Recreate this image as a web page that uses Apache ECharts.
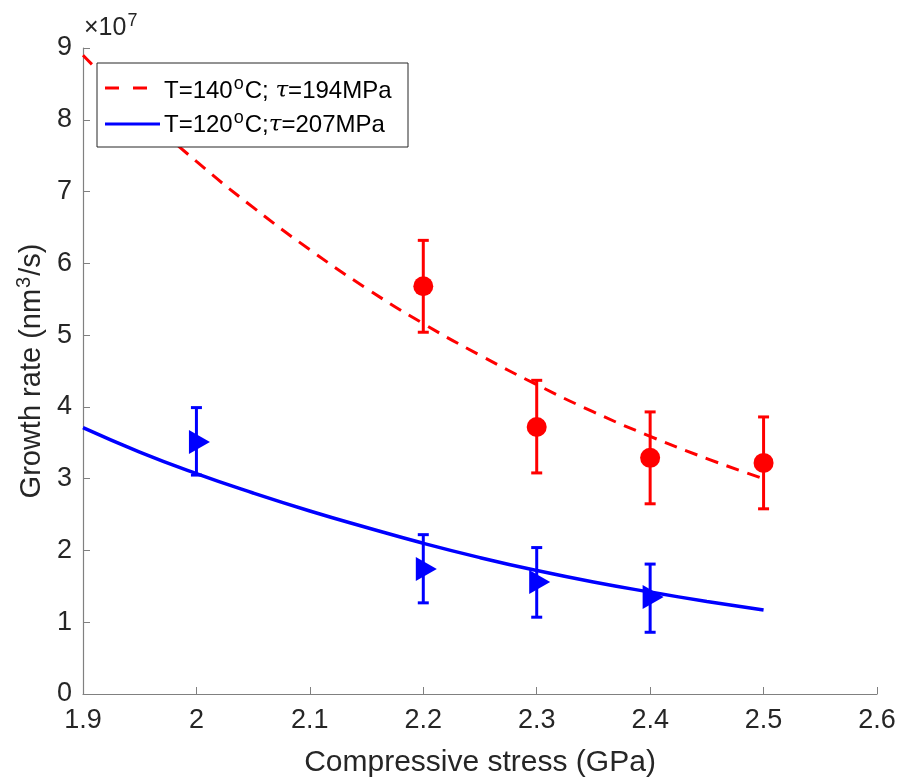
<!DOCTYPE html>
<html><head><meta charset="utf-8">
<script src="https://cdn.jsdelivr.net/npm/echarts@6/dist/echarts.min.js"></script>
<style>html,body{margin:0;padding:0;background:#fff}#c{width:897px;height:778px}</style>
</head><body><div id="c"></div>
<script>
// ---- data (values in units of 1e7 nm^3/s) ----
const fitX = [1.9,1.95,2.0,2.05,2.1,2.15,2.2,2.25,2.3,2.35,2.4,2.45,2.5];
const fit140 = [8.90,8.12,7.42,6.78,6.19,5.65,5.16,4.72,4.31,3.93,3.59,3.28,3.00];
const fit120 = [3.71,3.37,3.07,2.80,2.55,2.32,2.10,1.90,1.72,1.56,1.42,1.29,1.17];
const x140 = [2.2,2.3,2.4,2.5];
const y140 = [5.68,3.72,3.29,3.22];
const lo140 = [5.04,3.08,2.65,2.58];
const hi140 = [6.32,4.37,3.93,3.86];
const x120 = [2.0,2.2,2.3,2.4];
const y120 = [3.51,1.74,1.56,1.35];
const lo120 = [3.05,1.27,1.07,0.86];
const hi120 = [3.99,2.22,2.04,1.81];
const xTicks = [1.9,2.0,2.1,2.2,2.3,2.4,2.5,2.6];
const yTicks = [0,1,2,3,4,5,6,7,8,9];

const RED = '#ff0000', BLUE = '#0000ff', TXT = '#262626', AX = '#808080';
const FONT = 'Liberation Sans, Arial, sans-serif';

function zip(a,b){return a.map((v,i)=>[v,b[i]]);}
function errSeries(xs, lo, hi, color){
  return {
    type:'custom', silent:true, z:3,
    data: xs.map((x,i)=>[x,lo[i],hi[i]]),
    renderItem(params, api){
      const p1 = api.coord([api.value(0), api.value(1)]);
      const p2 = api.coord([api.value(0), api.value(2)]);
      const w = 5.5;
      const st = {stroke:color, lineWidth:3};
      return {type:'group', children:[
        {type:'line', shape:{x1:p1[0],y1:p1[1],x2:p2[0],y2:p2[1]}, style:st},
        {type:'line', shape:{x1:p1[0]-w,y1:p1[1],x2:p1[0]+w,y2:p1[1]}, style:st},
        {type:'line', shape:{x1:p2[0]-w,y1:p2[1],x2:p2[0]+w,y2:p2[1]}, style:st}
      ]};
    }
  };
}

const legRich = {
  a:{fontFamily:FONT, fontSize:24, fill:'#000', color:'#000'},
  s:{fontFamily:FONT, fontSize:18, fill:'#000', color:'#000', verticalAlign:'top', padding:[0,1,13,1]},
  t:{fontFamily:'DejaVu Serif, serif', fontStyle:'italic', fontSize:23, fill:'#000', color:'#000'}
};

const chart = echarts.init(document.getElementById('c'));
chart.setOption({
  animation:false,
  backgroundColor:'#fff',
  grid:{left:83, top:48, right:20, bottom:84, containLabel:false, outerBoundsMode:'none'},
  xAxis:{
    type:'value', min:xTicks[0], max:xTicks[xTicks.length-1], interval:0.1,
    name:'Compressive stress (GPa)', nameLocation:'middle', nameGap:54,
    nameTextStyle:{fontFamily:FONT, fontSize:30, color:TXT},
    axisLine:{show:true, lineStyle:{color:AX, width:1.2}},
    axisTick:{show:true, inside:true, length:7, lineStyle:{color:AX}},
    axisLabel:{fontFamily:FONT, fontSize:27, color:TXT, margin:13,
      formatter:v=>String(+(+v).toFixed(1))},
    splitLine:{show:false}
  },
  yAxis:{
    type:'value', min:yTicks[0], max:yTicks[yTicks.length-1], interval:1,
    name:'{a|Growth rate (nm}{s|3}{a|/s)}', nameLocation:'middle', nameGap:25,
    nameTextStyle:{fontFamily:FONT, fontSize:29, color:TXT,
      rich:{a:{fontFamily:FONT, fontSize:29, color:TXT},
            s:{fontFamily:FONT, fontSize:20, color:TXT, verticalAlign:'top', padding:[0,1,14,1]}}},
    axisLine:{show:true, lineStyle:{color:AX, width:1.2}},
    axisTick:{show:true, inside:true, length:7, lineStyle:{color:AX}},
    axisLabel:{fontFamily:FONT, fontSize:27, color:TXT, margin:11},
    splitLine:{show:false}
  },
  series:[
    {type:'line', data:zip(fitX,fit140), smooth:true, showSymbol:false, z:2,
     lineStyle:{color:RED, width:3, type:[13,9]}},
    {type:'line', data:zip(fitX,fit120), smooth:true, showSymbol:false, z:2,
     lineStyle:{color:BLUE, width:3.5}},
    errSeries(x140, lo140, hi140, RED),
    errSeries(x120, lo120, hi120, BLUE),
    {type:'scatter', data:zip(x140,y140), symbol:'circle', symbolSize:20, z:4,
     itemStyle:{color:RED, opacity:1}},
    {type:'scatter', data:zip(x120,y120), symbol:'triangle', symbolRotate:-90, symbolSize:[24,21], symbolOffset:[3,0], z:4,
     itemStyle:{color:BLUE, opacity:1}}
  ],
  graphic:[
    {type:'text', left:84, top:12, style:{
      rich:{a:{fontFamily:FONT, fontSize:25, fill:TXT}, s:{fontFamily:FONT, fontSize:18, fill:TXT, verticalAlign:'top', padding:[0,0,14,1]}},
      text:'{a|×10}{s|7}'}},
    {type:'rect', shape:{x:97, y:63, width:311, height:84}, style:{fill:'#fff', stroke:TXT, lineWidth:1}, z:10},
    {type:'line', shape:{x1:105,y1:88,x2:160,y2:88}, style:{stroke:RED, lineWidth:3, lineDash:[14,14]}, z:11},
    {type:'line', shape:{x1:105,y1:124,x2:160,y2:124}, style:{stroke:BLUE, lineWidth:3}, z:11},
    {type:'text', x:164, y:91, z:11, style:{verticalAlign:'middle', rich:legRich,
      text:'{a|T=140}{s|o}{a|C; }{t|τ}{a|=194MPa}'}},
    {type:'text', x:164, y:125, z:11, style:{verticalAlign:'middle', rich:legRich,
      text:'{a|T=120}{s|o}{a|C;}{t|τ}{a|=207MPa}'}}
  ]
});
</script></body></html>
